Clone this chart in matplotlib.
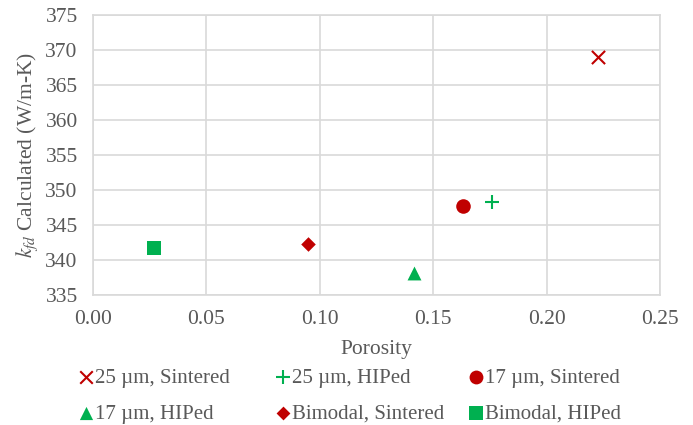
import matplotlib
matplotlib.use("Agg")
import matplotlib.pyplot as plt

plt.rcParams["font.family"] = ["Liberation Serif", "DejaVu Serif"]
plt.rcParams["mathtext.fontset"] = "stix"

labels = ["25 µm, Sintered", "25 µm, HIPed", "17 µm, Sintered",
          "17 µm, HIPed", "Bimodal, Sintered", "Bimodal, HIPed"]
porosity = [0.2225, 0.176, 0.163, 0.1415, 0.0948, 0.0268]
k_fd = [369.0, 348.3, 347.7, 338.2, 342.3, 341.7]
markers = ["x", "+", "o", "^", "D", "s"]
sizes = [90, 110, 110, 100, 55, 100]
red = "#C00000"
green = "#00B050"
colors = [red, green, red, green, red, green]
txt = "#595959"

fig = plt.figure(figsize=(6.93, 4.25), dpi=100)
ax = fig.add_axes([93 / 693, 130 / 425, 567 / 693, 280 / 425])

handles = []
for x, y, m, s, c, lab in zip(porosity, k_fd, markers, sizes, colors, labels):
    lw = 1.5 if m in ("x", "+") else 0
    h = ax.scatter(x, y, marker=m, s=s, color=c, linewidths=lw, label=lab, zorder=3)
    handles.append(h)

ax.set_xlim(0, 0.25)
ax.set_ylim(335, 375)
ax.set_xticks([0, 0.05, 0.10, 0.15, 0.20, 0.25])
ax.set_xticklabels(["0.00", "0.05", "0.10", "0.15", "0.20", "0.25"])
ax.set_yticks(range(335, 376, 5))
ax.grid(True, color="#D9D9D9", linewidth=1.2)
ax.set_axisbelow(True)
for sp in ax.spines.values():
    sp.set_color("#D9D9D9")
    sp.set_linewidth(1.2)
ax.tick_params(length=0, labelsize=15.5, colors=txt)
ax.tick_params(axis="x", pad=11)
ax.tick_params(axis="y", pad=11)

ax.set_xlabel("Porosity", fontsize=15.5, color=txt, labelpad=8)
ax.set_ylabel("$k_{fd}$ Calculated (W/m-K)", fontsize=15.5, color=txt, labelpad=4)

# legend laid out in fixed-width columns, read row-wise like the original
col_x = [76 / 693, 273 / 693, 466 / 693]
for col in range(3):
    idx = [col, col + 3]
    leg = fig.legend([handles[i] for i in idx], [labels[i] for i in idx],
                     loc="center left", bbox_to_anchor=(col_x[col], 1 - 396 / 425),
                     frameon=False, fontsize=15, handletextpad=-0.1,
                     handlelength=1.0, labelspacing=0.78, borderpad=0,
                     borderaxespad=0, markerscale=0.95)
    for t in leg.get_texts():
        t.set_color(txt)

fig.savefig("out.png", dpi=100)
